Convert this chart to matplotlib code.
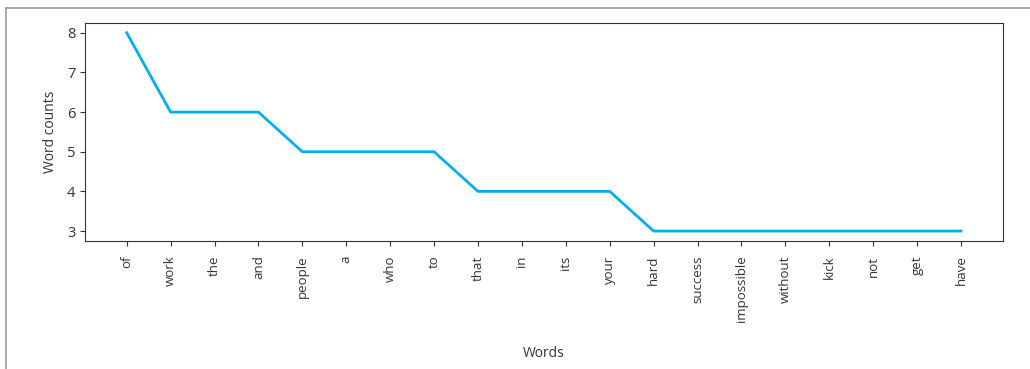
import matplotlib
matplotlib.use("Agg")
import matplotlib.pyplot as plt
from matplotlib.lines import Line2D

plt.rcParams['font.family'] = ['Open Sans', 'DejaVu Sans']

words = ["of", "work", "the", "and", "people", "a", "who", "to", "that", "in",
         "its", "your", "hard", "success", "impossible", "without", "kick",
         "not", "get", "have"]
counts = [8, 6, 6, 6, 5, 5, 5, 5, 4, 4, 4, 4, 3, 3, 3, 3, 3, 3, 3, 3]

text_color = "#333333"

fig = plt.figure(figsize=(10.30, 3.69), dpi=100)
ax = fig.add_axes([0.0825, 0.347, 0.891, 0.591])

ax.plot(range(len(words)), counts, color="#00aeef", linewidth=2)
ax.set_xticks(range(len(words)))
ax.set_xticklabels(words, rotation=90, fontsize=9.5, color=text_color)
ax.set_yticks([3, 4, 5, 6, 7, 8])
ax.tick_params(axis="y", labelsize=10.5, labelcolor=text_color)
ax.tick_params(colors="#333333")
ax.tick_params(axis="x", pad=7)
ax.set_xlabel("Words", fontsize=10, color=text_color, va="center")
ax.xaxis.set_label_coords(0.5, -0.514)
ax.set_ylabel("Word counts", fontsize=10, color=text_color)
ax.yaxis.set_label_coords(-0.029, 0.5)
for s in ax.spines.values():
    s.set_color("#333333")

# page frame around the figure
fig.add_artist(Line2D([6 / 1030, 1], [1 - 8 / 369, 1 - 8 / 369],
                      transform=fig.transFigure, color="#9a9a9a", linewidth=1.2))
fig.add_artist(Line2D([6 / 1030, 6 / 1030], [0, 1 - 8 / 369],
                      transform=fig.transFigure, color="#9a9a9a", linewidth=1.2))

fig.savefig("out.png", dpi=100)
